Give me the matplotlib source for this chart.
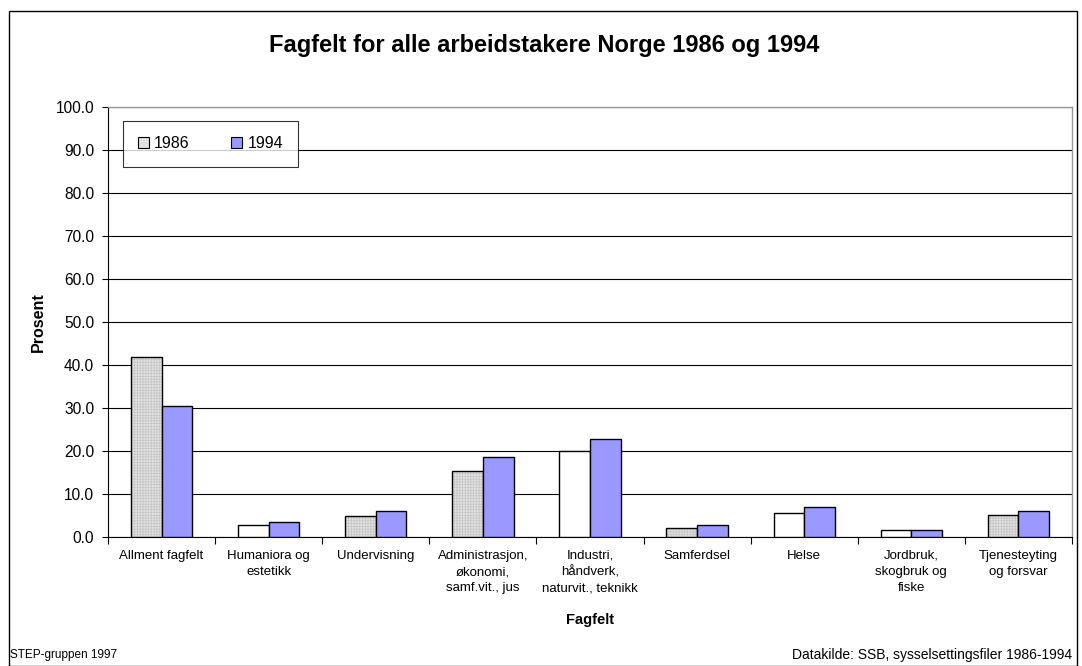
import matplotlib.pyplot as plt
import numpy as np
from matplotlib.patches import Rectangle

plt.rcParams['font.family'] = ['Liberation Sans', 'DejaVu Sans']
plt.rcParams['hatch.linewidth'] = 0.5

CATEGORIES = [
    "Allment fagfelt",
    "Humaniora og\nestetikk",
    "Undervisning",
    "Administrasjon,\nøkonomi,\nsamf.vit., jus",
    "Industri,\nhåndverk,\nnaturvit., teknikk",
    "Samferdsel",
    "Helse",
    "Jordbruk,\nskogbruk og\nfiske",
    "Tjenesteyting\nog forsvar",
]
VALUES_1986 = [41.9, 2.8, 5.0, 15.5, 20.1, 2.3, 5.6, 1.7, 5.3]
VALUES_1994 = [30.6, 3.5, 6.1, 18.7, 22.9, 2.9, 7.0, 1.8, 6.1]
# the 1986 bars are drawn either shaded or blank in the original
SHADED_1986 = [True, False, True, True, False, True, False, False, True]

fig = plt.figure(figsize=(10.82, 6.66), dpi=100)
ax = fig.add_axes([0.0998, 0.193, 0.891, 0.647])

x = np.arange(len(CATEGORIES))
w = 0.286
for i, (v, shaded) in enumerate(zip(VALUES_1986, SHADED_1986)):
    if shaded:
        # light fill with a fine grey grid, outline drawn on top
        ax.bar(x[i] - w / 2, v, w, color='#E2E2E2', hatch='++++++',
               edgecolor='#C4C4C4', linewidth=0, zorder=3)
    else:
        ax.bar(x[i] - w / 2, v, w, color='white', linewidth=0, zorder=3)
    ax.bar(x[i] - w / 2, v, w, fill=False, edgecolor='black',
           linewidth=1.0, zorder=4)
ax.bar(x + w / 2, VALUES_1994, w, color='#9999FF', edgecolor='black',
       linewidth=1.0, zorder=4)

ax.set_xlim(-0.5, len(CATEGORIES) - 0.5)
ax.set_ylim(0, 100)
ax.set_yticks(np.arange(0, 101, 10))
ax.set_yticklabels([f"{t:.1f}" for t in range(0, 101, 10)], fontsize=11.2)
ax.yaxis.grid(True, color='black', linewidth=0.8, zorder=0)
ax.tick_params(axis='y', length=4, width=0.8, color='black', pad=6)

ax.set_xticks(np.arange(len(CATEGORIES) + 1) - 0.5)
ax.set_xticklabels([])
ax.tick_params(axis='x', length=5, width=0.8, color='black')
for xi, lab in zip(x, CATEGORIES):
    ax.text(xi, -2.9, lab, ha='center', va='top', fontsize=9.5,
            linespacing=1.45)

for s in ['top', 'right']:
    ax.spines[s].set_color('#999999')
    ax.spines[s].set_linewidth(1.0)
ax.spines['left'].set_color('black')
ax.spines['bottom'].set_color('black')
ax.spines['left'].set_linewidth(0.8)
ax.spines['bottom'].set_linewidth(0.8)

ax.set_ylabel('Prosent', fontsize=11.5, fontweight='bold', labelpad=7)
ax.text(0.5, -0.192, 'Fagfelt', transform=ax.transAxes, ha='center',
        va='center', fontsize=10.5, fontweight='bold')

# legend proxies
h86 = Rectangle((0, 0), 1, 1, facecolor='#E2E2E2', edgecolor='black',
                linewidth=0.8)
h94 = Rectangle((0, 0), 1, 1, facecolor='#9999FF', edgecolor='black',
                linewidth=0.8)
leg = ax.legend([h86, h94], ['1986', '1994'], loc='upper left',
                bbox_to_anchor=(0.0156, 0.966), ncol=2, fontsize=11.5,
                frameon=True, fancybox=False, borderpad=0.95,
                handlelength=0.65, handleheight=0.65, handletextpad=0.35,
                columnspacing=2.6, borderaxespad=0)
leg.get_frame().set_edgecolor('black')
leg.get_frame().set_linewidth(0.8)
leg.set_zorder(5)

fig.text(0.5025, 0.932, 'Fagfelt for alle arbeidstakere Norge 1986 og 1994',
         ha='center', va='center', fontsize=17, fontweight='bold')
fig.text(0.009, 0.017, 'STEP-gruppen 1997', ha='left', va='center',
         fontsize=8.5)
fig.text(0.991, 0.017, 'Datakilde: SSB, sysselsettingsfiler 1986-1994',
         ha='right', va='center', fontsize=10)

fig.patches.append(Rectangle((0.0085, 0.0), 0.987, 0.983,
                             transform=fig.transFigure, fill=False,
                             edgecolor='black', linewidth=1.0))

fig.savefig('out.png', dpi=100)
